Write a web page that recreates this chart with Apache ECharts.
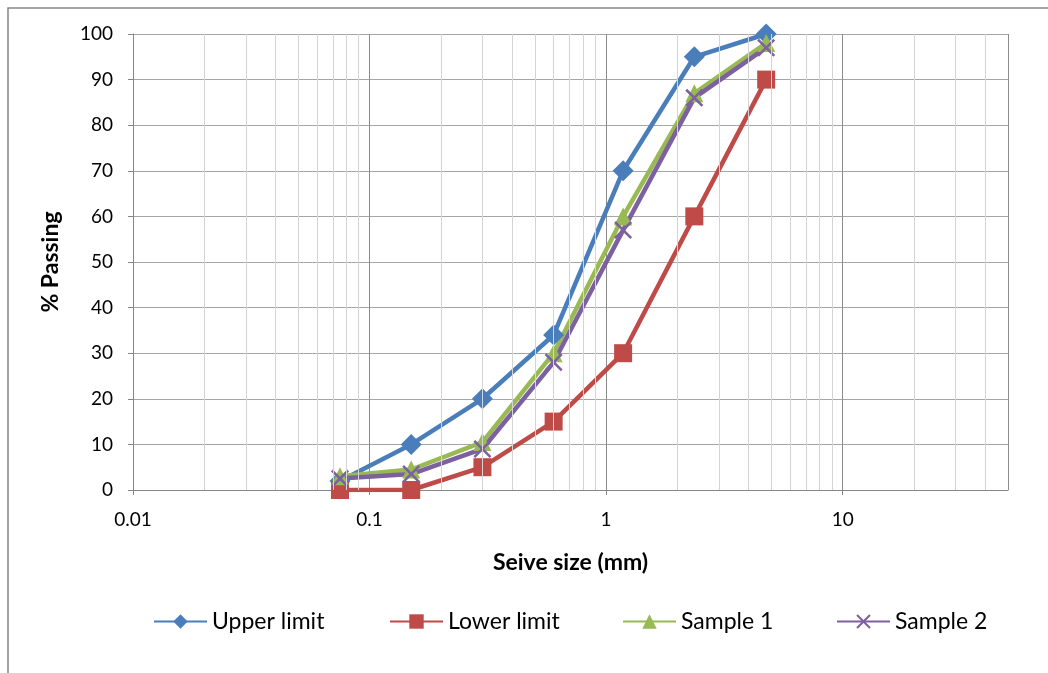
<!DOCTYPE html>
<html>
<head>
<meta charset="utf-8">
<script src="https://cdn.jsdelivr.net/npm/echarts@6/dist/echarts.min.js"></script>
<style>
  html, body { margin: 0; padding: 0; background: #fff; }
  #main { width: 1048px; height: 673px; }
</style>
</head>
<body>
<div id="main"></div>
<script>
  // sieve sizes (mm)
  var sieveSizes = [0.075, 0.15, 0.3, 0.6, 1.18, 2.36, 4.75];
  var upperLimit = [2, 10, 20, 34, 70, 95, 100];
  var lowerLimit = [0, 0, 5, 15, 30, 60, 90];
  var sample1 = [3, 4.5, 10.5, 30, 60, 87, 98];
  var sample2 = [2.5, 3.5, 9, 28, 57, 86, 97];
  var seriesNames = ['Upper limit', 'Lower limit', 'Sample 1', 'Sample 2'];
  // minor log grid lines (2..9 in each decade)
  var minorGrid = [];
  [0.01, 0.1, 1, 10].forEach(function (d) {
    for (var k = 2; k <= 9; k++) {
      var v = +(d * k).toPrecision(3);
      if (v < 50) minorGrid.push(v);
    }
  });

  var chart = echarts.init(document.getElementById('main'));
  var font = 'Lato, "Open Sans", sans-serif';

  function pairs(arr) {
    return sieveSizes.map(function (x, i) { return [x, arr[i]]; });
  }

  var xMark = 'path://M1,0 L5,4 L9,0 L10,1 L6,5 L10,9 L9,10 L5,6 L1,10 L0,9 L4,5 L0,1 Z';

  // one legend per item, excel spaces them unevenly
  var legendLeft = [153, 389, 622, 836];
  var legends = seriesNames.map(function (n, i) {
    return {
      left: legendLeft[i],
      top: 610,
      padding: 0,
      itemWidth: 53,
      itemHeight: 18,
      itemGap: 5,
      textStyle: { fontFamily: font, fontSize: 23, color: '#000', padding: [0, 0, 0, 0] },
      data: [n]
    };
  });

  chart.setOption({
    animation: false,
    graphic: [{
      type: 'rect',
      shape: { x: 8, y: 8, width: 1100, height: 700 },
      style: { fill: 'none', stroke: '#868686', lineWidth: 1.5 },
      silent: true
    }],
    grid: { left: 133, right: 40, top: 34, bottom: 183 },
    legend: legends,
    xAxis: {
      type: 'log',
      logBase: 10,
      min: 0.01,
      max: 50,
      name: 'Seive size (mm)',
      nameLocation: 'middle',
      nameGap: 61,
      nameTextStyle: { fontFamily: font, fontSize: 23, fontWeight: 'bold', color: '#000' },
      axisLine: { lineStyle: { color: '#868686' } },
      axisTick: { show: true, length: 5, lineStyle: { color: '#868686' } },
      axisLabel: {
        showMaxLabel: false,
        margin: 20,
        fontFamily: font, fontSize: 19, color: '#000',
        formatter: function (v) { return String(+v.toPrecision(3)); }
      },
      splitLine: { show: true, lineStyle: { color: '#8c8c8c', width: 1 } }
    },
    yAxis: {
      type: 'value',
      min: 0,
      max: 100,
      interval: 10,
      name: '% Passing',
      nameLocation: 'middle',
      nameGap: 71,
      nameTextStyle: { fontFamily: font, fontSize: 23, fontWeight: 'bold', color: '#000' },
      axisLine: { show: true, lineStyle: { color: '#868686' } },
      axisTick: { show: true, length: 5, lineStyle: { color: '#868686' } },
      axisLabel: { margin: 20, fontFamily: font, fontSize: 19, color: '#000' },
      splitLine: { show: true, lineStyle: { color: '#a6a6a6', width: 1 } }
    },
    series: [
      {
        name: 'minor',
        type: 'line',
        data: [],
        silent: true,
        markLine: {
          silent: true,
          symbol: 'none',
          label: { show: false },
          lineStyle: { color: '#d4d4d4', type: 'solid', width: 1 },
          data: minorGrid.map(function (v) { return { xAxis: v }; })
        }
      },
      {
        name: seriesNames[0],
        type: 'line',
        data: pairs(upperLimit),
        symbol: 'diamond',
        symbolSize: 21,
        color: '#4a7ebb',
        lineStyle: { width: 4.5 }
      },
      {
        name: seriesNames[1],
        type: 'line',
        data: pairs(lowerLimit),
        symbol: 'rect',
        symbolSize: 18,
        color: '#be4b48',
        lineStyle: { width: 4.5 }
      },
      {
        name: seriesNames[2],
        type: 'line',
        data: pairs(sample1),
        symbol: 'triangle',
        symbolSize: 18,
        color: '#98b954',
        lineStyle: { width: 4.5 }
      },
      {
        name: seriesNames[3],
        type: 'line',
        data: pairs(sample2),
        symbol: xMark,
        symbolSize: 18,
        color: '#7d60a0',
        lineStyle: { width: 4.5 }
      }
    ]
  });
</script>
</body>
</html>
